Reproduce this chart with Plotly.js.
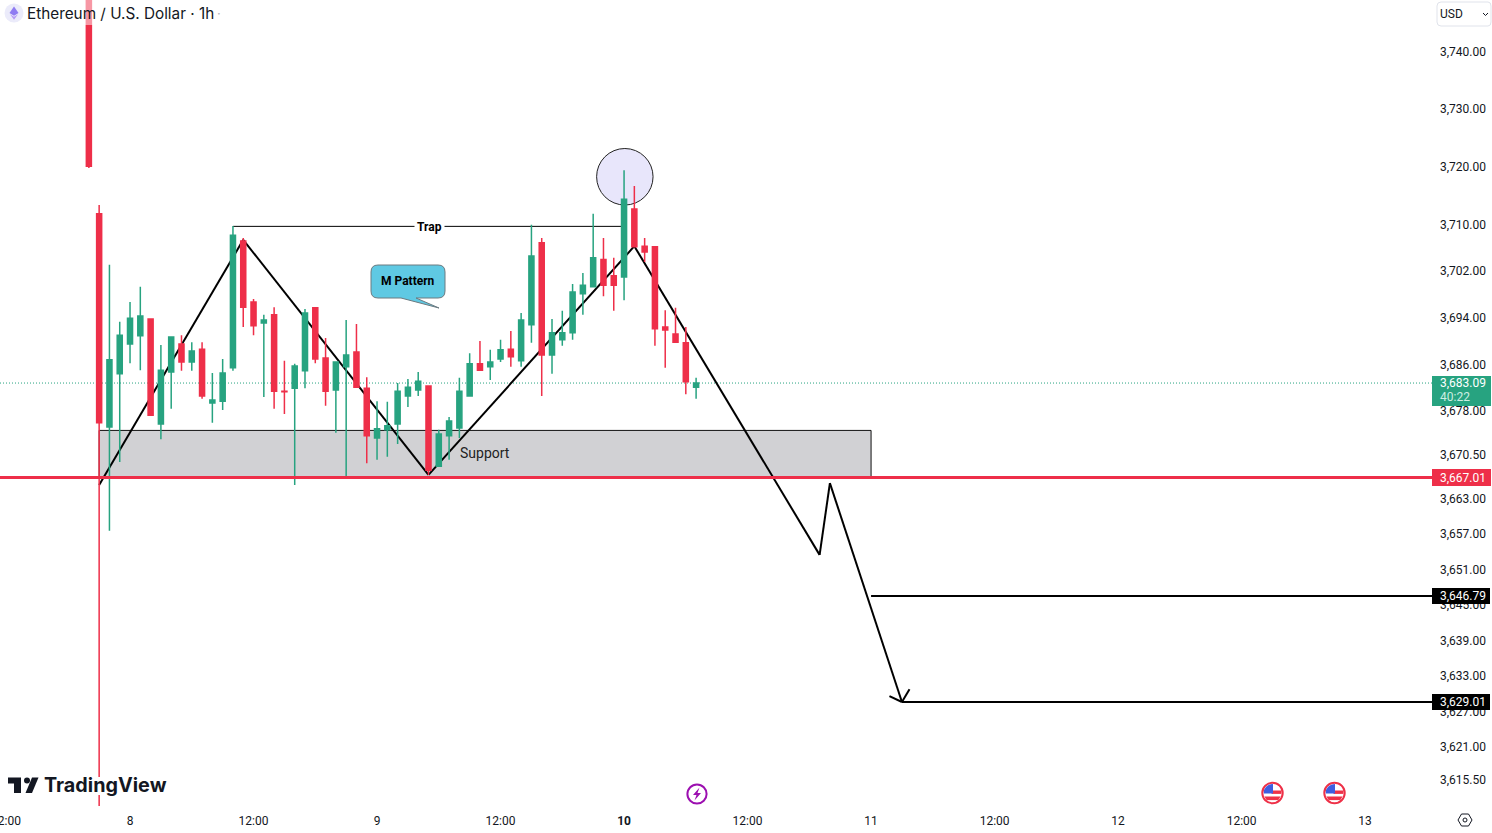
<!DOCTYPE html>
<html><head><meta charset="utf-8">
<script src="https://cdn.plot.ly/plotly-3.0.1.min.js"></script>
<style>html,body{margin:0;padding:0;background:#fff;overflow:hidden}</style>
</head><body><div id="chart" style="width:1492px;height:833px"></div>
<script>
const candleTimes = [
"2024-06-07 20:00","2024-06-07 21:00","2024-06-07 22:00","2024-06-07 23:00",
"2024-06-08 00:00","2024-06-08 01:00","2024-06-08 02:00","2024-06-08 03:00","2024-06-08 04:00","2024-06-08 05:00","2024-06-08 06:00","2024-06-08 07:00","2024-06-08 08:00","2024-06-08 09:00","2024-06-08 10:00","2024-06-08 11:00","2024-06-08 12:00","2024-06-08 13:00","2024-06-08 14:00","2024-06-08 15:00","2024-06-08 16:00","2024-06-08 17:00","2024-06-08 18:00","2024-06-08 19:00","2024-06-08 20:00","2024-06-08 21:00","2024-06-08 22:00","2024-06-08 23:00",
"2024-06-09 00:00","2024-06-09 01:00","2024-06-09 02:00","2024-06-09 03:00","2024-06-09 04:00","2024-06-09 05:00","2024-06-09 06:00","2024-06-09 07:00","2024-06-09 08:00","2024-06-09 09:00","2024-06-09 10:00","2024-06-09 11:00","2024-06-09 12:00","2024-06-09 13:00","2024-06-09 14:00","2024-06-09 15:00","2024-06-09 16:00","2024-06-09 17:00","2024-06-09 18:00","2024-06-09 19:00","2024-06-09 20:00","2024-06-09 21:00","2024-06-09 22:00","2024-06-09 23:00",
"2024-06-10 00:00","2024-06-10 01:00","2024-06-10 02:00","2024-06-10 03:00","2024-06-10 04:00","2024-06-10 05:00","2024-06-10 06:00","2024-06-10 07:00"];
const opens = [3768,3711.9,3675.3,3684.4,3689.5,3690.9,3693.8,3675.8,3684.7,3689.5,3686.4,3688.6,3679.4,3679.7,3685.4,3707.2,3696.7,3693.1,3694.5,3681.4,3681.9,3684.9,3695.7,3687.1,3681.6,3685.6,3688.1,3681.9,3673.4,3674.8,3675.8,3680.6,3681.6,3682.3,3668.6,3673.8,3675.1,3680.6,3686.1,3685.6,3686.9,3688.6,3686.6,3692.8,3706.9,3687.6,3690.2,3691.4,3698.1,3699.3,3704.0,3701.2,3701.0,3712.7,3706.3,3706.2,3692.4,3691.2,3689.7,3682.1];
const highs = [3772,3713.4,3703.1,3693.3,3696.7,3699.3,3693.9,3689.3,3690.7,3691.0,3689.8,3689.8,3684.5,3686.9,3709.8,3707.7,3697.2,3694.5,3695.8,3686.6,3686.1,3695.5,3695.7,3690.5,3686.4,3693.6,3692.9,3683.8,3679.7,3679.6,3682.8,3683.5,3684.7,3682.3,3674.8,3677.0,3683.7,3687.9,3690.0,3688.5,3690.2,3691.7,3694.8,3710.0,3707.7,3693.8,3695.2,3699.8,3701.7,3711.9,3707.7,3704.3,3719.4,3716.7,3707.7,3706.3,3695.3,3695.7,3692.4,3683.7];
const lows = [3719.8,3611.1,3657.6,3669.3,3686.2,3685.0,3677.2,3673.2,3678.4,3684.9,3684.9,3680.1,3676.0,3678.2,3684.9,3692.4,3691.0,3680.4,3678.4,3677.5,3665.4,3681.9,3686.2,3678.9,3674.3,3666.9,3682.0,3669.1,3669.7,3670.2,3672.4,3678.7,3680.6,3667.1,3668.5,3669.7,3673.4,3680.5,3684.9,3683.3,3686.4,3685.6,3685.6,3689.7,3680.6,3684.4,3689.2,3690.2,3694.5,3699.2,3697.7,3695.2,3697.0,3706.1,3703.6,3689.2,3685.4,3689.7,3680.9,3680.1];
const closes = [3720.1,3676.0,3686.8,3691.0,3693.9,3694.3,3677.3,3685.0,3690.7,3686.4,3688.3,3680.6,3679.9,3684.5,3708.2,3695.8,3692.6,3693.6,3681.4,3681.3,3685.7,3694.8,3686.9,3681.4,3686.4,3687.6,3682.1,3673.8,3675.0,3675.5,3681.4,3682.1,3683.1,3667.9,3674.1,3676.3,3681.4,3686.1,3685.0,3686.4,3688.5,3687.3,3693.6,3704.6,3687.6,3691.4,3691.4,3698.4,3699.6,3704.3,3699.6,3699.6,3714.4,3706.2,3705.3,3692.1,3691.9,3689.8,3683.0,3682.8];

const priceTicks = [3740,3730,3720,3710,3702,3694,3686,3678,3670.5,3663,3657,3651,3645,3639,3633,3627,3621,3615.5];
const priceTickText = ["3,740.00","3,730.00","3,720.00","3,710.00","3,702.00","3,694.00","3,686.00","3,678.00","3,670.50","3,663.00","3,657.00","3,651.00","3,645.00","3,639.00","3,633.00","3,627.00","3,621.00","3,615.50"];
const timeTicks = ["2024-06-08 00:00","2024-06-08 12:00","2024-06-09 00:00","2024-06-09 12:00","2024-06-10 00:00","2024-06-10 12:00","2024-06-11 00:00","2024-06-11 12:00","2024-06-12 00:00","2024-06-12 12:00","2024-06-13 00:00"];
const timeTickText = ["8","12:00","9","12:00","<b>10</b>","12:00","11","12:00","12","12:00","13"];

const zigTimes = ["2024-06-07 21:00","2024-06-08 11:00","2024-06-09 05:00","2024-06-10 01:00","2024-06-10 19:00","2024-06-10 20:00","2024-06-11 03:00"];
const zigPrices = [3665.4,3707.4,3667.1,3706.3,3653.5,3665.7,3628.6];
const arrowTimes = ["2024-06-11 01:47","2024-06-11 03:44"];
const arrowPrices = [3629.6,3630.75];
const supportTop = 3674.7, supportLevel = 3666.66;
const target1 = 3646.53, target2 = 3628.61, lastPrice = 3682.8, trapPrice = 3709.72;
const levelLabels = {support:"3,667.01", target1:"3,646.79", target2:"3,629.01", last:"3,683.09", countdown:"40:22"};

const GREEN="#27a380", RED="#ee2f49", W=1432, H=806;
const X0="2024-06-07 11:22", X1="2024-06-13 06:30";
const px=x=>x/W, py=y=>1-y/H;
const pth=a=>a.map(s=>typeof s==="string"?s:px(s[0])+","+py(s[1])).join(" ");
const lin=(x0,y0,x1,y1,color,width,layer,dash)=>({type:"line",xref:"x",yref:"y",x0,y0,x1,y1,layer:layer||"below",line:{color,width,dash:dash||"solid"}});
const pixRect=(x0,y0,x1,y1,fill,line)=>({type:"rect",xref:"paper",yref:"paper",x0:px(x0),x1:px(x1),y0:py(y1),y1:py(y0),fillcolor:fill,line:line||{width:0},layer:"above"});

const shapes=[];
shapes.push({type:"rect",xref:"x",yref:"y",x0:"2024-06-07 21:00",x1:"2024-06-11 00:00",y0:supportLevel,y1:supportTop,fillcolor:"#d1d1d4",line:{color:"#111",width:1},layer:"below"});
shapes.push(lin(X0,lastPrice,X1,lastPrice,GREEN,1,"below","1px,2px"));
shapes.push(lin("2024-06-08 10:00",trapPrice,"2024-06-10 00:00",trapPrice,"#000",1));
shapes.push({type:"circle",xref:"x",yref:"y",x0:"2024-06-09 21:20",x1:"2024-06-10 02:49",y0:3713.4,y1:3723.17,fillcolor:"#e8e6fb",line:{color:"#222",width:1},layer:"below"});
for(let i=0;i<zigTimes.length-1;i++) shapes.push(lin(zigTimes[i],zigPrices[i],zigTimes[i+1],zigPrices[i+1],"#000",2));
for(let i=0;i<2;i++) shapes.push(lin(arrowTimes[i],arrowPrices[i],zigTimes[6],zigPrices[6],"#000",2));
shapes.push(lin("2024-06-11 00:00",target1,X1,target1,"#000",2));
shapes.push(lin(zigTimes[6],target2,X1,target2,"#000",2));
shapes.push(lin(X0,supportLevel,X1,supportLevel,RED,3,"above"));
// legend fade over the candle, and the logo's mask over the long wick
shapes.push(pixRect(84,0,94,25,"rgba(255,255,255,0.5)"));
shapes.push(pixRect(92,777,106,795,"#fff"));
// M Pattern bubble
shapes.push({type:"path",xref:"paper",yref:"paper",layer:"above",fillcolor:"#5fc9e3",line:{color:"#6c7a80",width:1},
 path:pth(["M",[378,265],"L",[438,265],"Q",[445,265],[445,272],"L",[445,291],"Q",[445,298],[438,298],"L",[416,298],"L",[439,308],"L",[401,298],"L",[378,298],"Q",[371,298],[371,291],"L",[371,272],"Q",[371,265],[378,265],"Z"])});
// USD box and chevron
shapes.push({type:"path",xref:"paper",yref:"paper",layer:"above",fillcolor:"#fff",line:{color:"#e0e3eb",width:1},
 path:pth(["M",[1441,2],"L",[1488,2],"Q",[1491,2],[1491,6],"L",[1491,22],"Q",[1491,26],[1488,26],"L",[1441,26],"Q",[1437,26],[1437,22],"L",[1437,6],"Q",[1437,2],[1441,2],"Z"])});
shapes.push({type:"path",xref:"paper",yref:"paper",layer:"above",line:{color:"#131722",width:1},path:pth(["M",[1483,13],"L",[1485.5,15.5],"L",[1488,13]])});
// price tags
shapes.push(pixRect(1432,376,1491,406,GREEN));
shapes.push(pixRect(1432,469,1491,486,RED));
shapes.push(pixRect(1432,588,1490,604,"#000"));
shapes.push(pixRect(1432,694,1490,710,"#000"));
// TradingView mark
shapes.push({type:"path",xref:"paper",yref:"paper",layer:"above",fillcolor:"#131722",line:{width:0},path:pth(["M",[8,777.5],"L",[21,777.5],"L",[21,793],"L",[14,793],"L",[14,783.5],"L",[8,783.5],"Z"])});
shapes.push({type:"circle",xref:"paper",yref:"paper",layer:"above",fillcolor:"#131722",line:{width:0},x0:px(24),x1:px(30),y0:py(783.5),y1:py(777.5)});
shapes.push({type:"path",xref:"paper",yref:"paper",layer:"above",fillcolor:"#131722",line:{width:0},path:pth(["M",[32,777.5],"L",[38.5,777.5],"L",[32,793],"L",[25.5,793],"Z"])});

const svg=(w,h,body)=>"data:image/svg+xml;utf8,"+encodeURIComponent(`<svg xmlns="http://www.w3.org/2000/svg" width="${w}" height="${h}" viewBox="0 0 ${w} ${h}">${body}</svg>`);
const flag=svg(24,24,`<defs><clipPath id="c"><circle cx="12" cy="12" r="9"/></clipPath></defs><circle cx="12" cy="12" r="10.2" fill="#fff" stroke="#ee3148" stroke-width="2"/><g clip-path="url(#c)"><rect x="2" y="4" width="20" height="3.2" fill="#fff"/><rect x="11" y="9.5" width="12" height="3.4" fill="#ee3148"/><rect x="2" y="15.5" width="20" height="3.6" fill="#ee3148"/><rect x="3" y="3" width="9.5" height="9.5" fill="#3f5de0"/></g>`);
const bolt=svg(24,24,`<circle cx="12" cy="12" r="9.6" fill="#fff" stroke="#9c0fb0" stroke-width="2"/><path d="M14.5 5.5 L8 13 H11.5 L9.5 18.5 L16 11 H12.5 Z" fill="#9c0fb0"/>`);
const eth=svg(20,20,`<circle cx="10" cy="10" r="9.5" fill="#ebebfa"/><path d="M10 3.5 L14.5 10 L10 12.8 L5.5 10 Z" fill="#8f7cf2"/><path d="M10 13.8 L14 11.2 L10 16.8 L6 11.2 Z" fill="#b79cf5"/>`);
const gear=svg(16,16,`<path d="M4.5 2 H11.5 L15 8 L11.5 14 H4.5 L1 8 Z" fill="none" stroke="#131722" stroke-width="1"/><circle cx="8" cy="8" r="2" fill="none" stroke="#131722" stroke-width="1"/>`);
const img=(src,x,y,s)=>({source:src,xref:"paper",yref:"paper",x:px(x),y:py(y),sizex:s/W,sizey:s/H,xanchor:"left",yanchor:"top",sizing:"stretch",layer:"above"});
const images=[img(eth,4,3,20),img(flag,1260.5,781,24),img(flag,1322.5,781,24),img(bolt,685,782,24),img(gear,1457,812,16)];

const ann=(o)=>Object.assign({showarrow:false,yanchor:"middle",xanchor:"center",font:{family:"Roboto",size:12,color:"#131722"}},o);
const left=(x,y,text,font,extra)=>ann(Object.assign({xref:"paper",yref:"paper",x:px(x-2),xanchor:"left",y:py(y),text,font},extra||{}));
const tag=(val,text)=>ann({xref:"paper",x:px(1463),yref:"y",y:Math.log10(val),text,font:{family:"Roboto",size:12,color:"#fff"}});
const annotations=[
 ann({xref:"x",yref:"y",x:"2024-06-09 05:03",y:Math.log10(trapPrice),yshift:-0.5,text:"<b>Trap</b>",bgcolor:"#fff",borderpad:2,font:{family:"Roboto",size:12,color:"#000"}}),
 ann({xref:"paper",yref:"paper",x:px(408),y:py(281),text:"<b>M Pattern</b>",font:{family:"Roboto",size:12,color:"#000"}}),
 left(460,453,"Support",{family:"Roboto",size:14,color:"#222"}),
 left(27,13.4,"Ethereum / U.S. Dollar · 1h",{family:"Inter",size:15.3,color:"#131722"}),
 ann({xref:"paper",yref:"paper",x:px(219),y:py(13),text:"·",font:{family:"Inter",size:13,color:"#b2b5be"}}),
 left(44,785,"<b>TradingView</b>",{family:"Inter",size:19.8,color:"#131722"}),
 left(1440,14,"USD",{family:"Roboto",size:12,color:"#131722"}),
 left(1440,383,levelLabels.last,{family:"Roboto",size:12,color:"#fff"}),
 left(1440,397,levelLabels.countdown,{family:"Roboto",size:12,color:"#cdeee2"}),
 ann({xref:"paper",yref:"paper",x:px(6.3),y:py(821),text:"12:00"}),
 tag(supportLevel,levelLabels.support),tag(target1,levelLabels.target1),tag(target2,levelLabels.target2)
];

Plotly.newPlot("chart",[{
 type:"candlestick",x:candleTimes,open:opens,high:highs,low:lows,close:closes,width:1900000,whiskerwidth:0,
 increasing:{line:{color:GREEN,width:1.5},fillcolor:GREEN},decreasing:{line:{color:RED,width:1.5},fillcolor:RED},hoverinfo:"skip"
}],{
 width:1492,height:833,margin:{l:0,r:60,t:0,b:27,pad:0},paper_bgcolor:"#fff",plot_bgcolor:"#fff",showlegend:false,
 xaxis:{type:"date",range:[X0,X1],rangeslider:{visible:false},tickmode:"array",tickvals:timeTicks,ticktext:timeTickText,ticks:"",showgrid:false,zeroline:false,showline:false,tickangle:0,ticklabelstandoff:6,tickfont:{family:"Roboto",size:12,color:"#131722"}},
 yaxis:{type:"log",side:"right",range:[Math.log10(3611.1),Math.log10(3748.96)],tickmode:"array",tickvals:priceTicks,ticktext:priceTickText,ticks:"",showgrid:false,zeroline:false,showline:false,ticklabelstandoff:7,tickfont:{family:"Roboto",size:12,color:"#131722"}},
 shapes,images,annotations
},{displayModeBar:false,staticPlot:true});
</script></body></html>
